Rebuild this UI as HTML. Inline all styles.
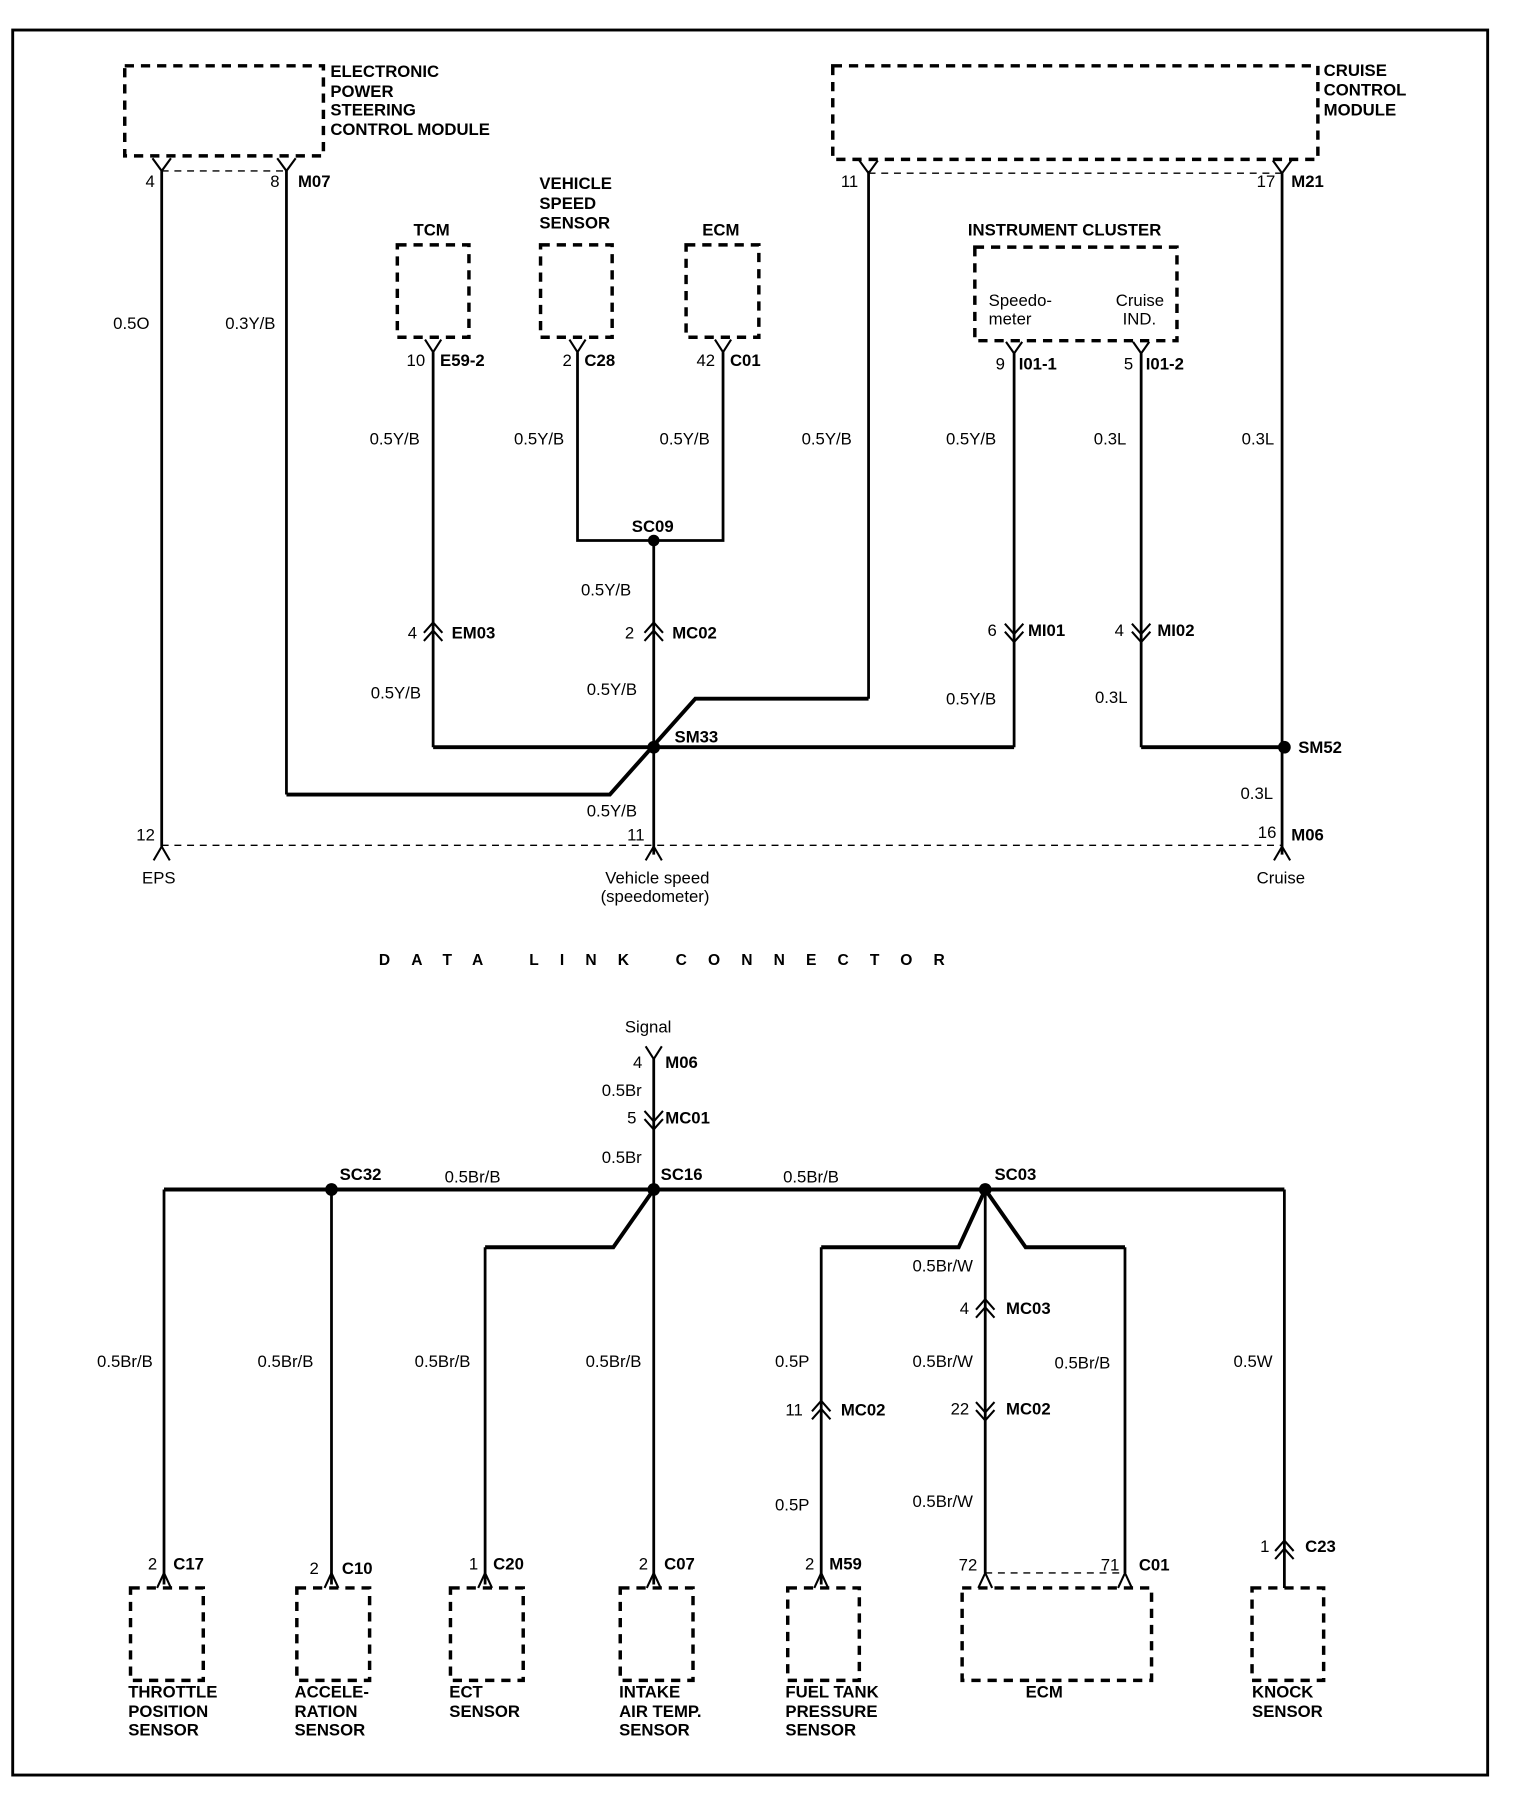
<!DOCTYPE html>
<html><head><meta charset="utf-8"><style>
html,body{margin:0;padding:0;background:#fff;}
svg{display:block;}
text{font-family:"Liberation Sans",Arial,sans-serif;font-size:14.5px;fill:#000;dominant-baseline:middle;}
.b{font-weight:bold;}
.w{stroke:#000;stroke-width:2.4;fill:none;}
.t{stroke:#000;stroke-width:3.4;fill:none;}
.d{stroke:#000;stroke-width:3;fill:none;stroke-dasharray:8 6;}
.dl{stroke:#000;stroke-width:1.2;fill:none;stroke-dasharray:6 5;}
.c{stroke:#000;stroke-width:1.8;fill:none;}
</style></head><body>
<svg width="1520" height="1812" viewBox="0 0 1316 1569" preserveAspectRatio="none" xmlns="http://www.w3.org/2000/svg">
<rect x="11" y="26" width="1277" height="1511" fill="none" stroke="#000" stroke-width="2.5"/>

<rect class="d" x="108" y="57" width="172" height="78"/>
<text class="b" x="286" y="63">ELECTRONIC</text>
<text class="b" x="286" y="80">POWER</text>
<text class="b" x="286" y="96">STEERING</text>
<text class="b" x="286" y="113">CONTROL MODULE</text>
<path class="c" d="M132 137 L140 148 L148 137 M240 137 L248 148 L256 137"/>
<line class="dl" x1="140" y1="148" x2="248" y2="148"/>
<text x="126" y="158">4</text><text x="234" y="158">8</text><text class="b" x="258" y="158">M07</text>
<line class="w" x1="140" y1="148" x2="140" y2="733"/>
<text x="98" y="281">0.5O</text>
<path class="w" d="M248 148 L248 688"/>
<path class="t" d="M248 688 L528 688 L602 605 L752 605"/>
<path class="w" d="M752 605 L752 148"/>
<text x="195" y="281">0.3Y/B</text>

<text class="b" x="358" y="200">TCM</text>
<rect class="d" x="344" y="212" width="62" height="80"/>
<path class="c" d="M368 294 L375 305 L382 294"/>
<text x="352" y="313">10</text><text class="b" x="381" y="313">E59-2</text>
<text class="b" x="467" y="160">VEHICLE</text>
<text class="b" x="467" y="177">SPEED</text>
<text class="b" x="467" y="194">SENSOR</text>
<rect class="d" x="468" y="212" width="62" height="80"/>
<path class="c" d="M493 294 L500 305 L507 294"/>
<text x="487" y="313">2</text><text class="b" x="506" y="313">C28</text>
<text class="b" x="608" y="200">ECM</text>
<rect class="d" x="594" y="212" width="63" height="80"/>
<path class="c" d="M619 294 L626 305 L633 294"/>
<text x="603" y="313">42</text><text class="b" x="632" y="313">C01</text>

<line class="w" x1="375" y1="305" x2="375" y2="647"/>
<path class="w" d="M500 305 L500 468 L626 468 L626 305"/>
<line class="w" x1="566" y1="468" x2="566" y2="740"/>
<circle cx="566" cy="468" r="5"/>
<text class="b" x="547" y="457">SC09</text>
<text x="320" y="381">0.5Y/B</text>
<text x="445" y="381">0.5Y/B</text>
<text x="571" y="381">0.5Y/B</text>
<text x="503" y="512">0.5Y/B</text>
<text x="321" y="601">0.5Y/B</text>
<text x="508" y="598">0.5Y/B</text>
<text x="508" y="703">0.5Y/B</text>
<text x="694" y="381">0.5Y/B</text>
<path class="c" d="M367 548 L375 539 L383 548 M367 555 L375 546 L383 555"/>
<text x="353" y="549">4</text><text class="b" x="391" y="549">EM03</text>
<path class="c" d="M558 548 L566 539 L574 548 M558 555 L566 546 L574 555"/>
<text x="541" y="549">2</text><text class="b" x="582" y="549">MC02</text>

<path class="t" d="M375 647 L878 647"/>
<circle cx="566" cy="647" r="5.5"/>
<text class="b" x="584" y="639">SM33</text>

<rect class="d" x="721" y="57" width="420" height="81"/>
<text class="b" x="1146" y="62">CRUISE</text>
<text class="b" x="1146" y="79">CONTROL</text>
<text class="b" x="1146" y="96">MODULE</text>
<path class="c" d="M744 139 L752 150 L760 139 M1102 139 L1110 150 L1118 139"/>
<line class="dl" x1="752" y1="150" x2="1110" y2="150"/>
<text x="728" y="158">11</text><text x="1088" y="158">17</text><text class="b" x="1118" y="158">M21</text>
<line class="w" x1="1110" y1="150" x2="1110" y2="740"/>

<text class="b" x="838" y="200">INSTRUMENT CLUSTER</text>
<rect class="d" x="844" y="214" width="175" height="81"/>
<text x="856" y="261">Speedo-</text><text x="856" y="277">meter</text>
<text x="966" y="261">Cruise</text><text x="972" y="277">IND.</text>
<path class="c" d="M871 296 L878 306 L885 296 M981 296 L988 306 L995 296"/>
<text x="862" y="316">9</text><text class="b" x="882" y="316">I01-1</text>
<text x="973" y="316">5</text><text class="b" x="992" y="316">I01-2</text>
<line class="w" x1="878" y1="306" x2="878" y2="647"/>
<path class="w" d="M988 306 L988 647"/>
<path class="t" d="M988 647 L1112 647"/>
<path class="c" d="M870 540 L878 549 L886 540 M870 547 L878 556 L886 547"/>
<text x="855" y="547">6</text><text class="b" x="890" y="547">MI01</text>
<path class="c" d="M980 540 L988 549 L996 540 M980 547 L988 556 L996 547"/>
<text x="965" y="547">4</text><text class="b" x="1002" y="547">MI02</text>
<text x="819" y="381">0.5Y/B</text><text x="819" y="606">0.5Y/B</text>
<text x="947" y="381">0.3L</text><text x="948" y="605">0.3L</text>
<text x="1075" y="381">0.3L</text><text x="1074" y="688">0.3L</text>
<circle cx="1112" cy="647" r="5.5"/>
<text class="b" x="1124" y="648">SM52</text>

<line class="dl" x1="140" y1="732" x2="1110" y2="732"/>
<path class="c" d="M133 745 L140 733 L147 745 M559 745 L566 733 L573 745 M1103 745 L1110 733 L1117 745"/>
<text x="118" y="724">12</text><text x="543" y="724">11</text>
<text x="1089" y="722">16</text><text class="b" x="1118" y="724">M06</text>
<text x="123" y="761">EPS</text>
<text x="524" y="761">Vehicle speed</text>
<text x="520" y="777">(speedometer)</text>
<text x="1088" y="761">Cruise</text>
<text class="b" x="328" y="832" style="letter-spacing:18.3px;font-size:13.5px">DATA  LINK  CONNECTOR</text>

<text x="541" y="890">Signal</text>
<path class="c" d="M559 906 L566 917 L573 906"/>
<text x="548" y="921">4</text><text class="b" x="576" y="921">M06</text>
<line class="w" x1="566" y1="917" x2="566" y2="1372"/>
<text x="521" y="945">0.5Br</text>
<path class="c" d="M558 962 L566 971 L574 962 M558 969 L566 978 L574 969"/>
<text x="543" y="969">5</text><text class="b" x="576" y="969">MC01</text>
<text x="521" y="1003">0.5Br</text>

<path class="t" d="M142 1030 L1112 1030"/>
<circle cx="287" cy="1030" r="5.5"/><circle cx="566" cy="1030" r="5.5"/><circle cx="853" cy="1030" r="5.5"/>
<text class="b" x="294" y="1018">SC32</text><text x="385" y="1020">0.5Br/B</text>
<text class="b" x="572" y="1018">SC16</text><text x="678" y="1020">0.5Br/B</text>
<text class="b" x="861" y="1018">SC03</text>

<line class="w" x1="142" y1="1030" x2="142" y2="1372"/>
<line class="w" x1="287" y1="1030" x2="287" y2="1372"/>
<path class="t" d="M566 1030 L531 1080 L420 1080"/>
<line class="w" x1="420" y1="1080" x2="420" y2="1372"/>
<path class="t" d="M853 1030 L830 1080 L711 1080 M853 1030 L888 1080 L974 1080"/>
<line class="w" x1="711" y1="1080" x2="711" y2="1372"/>
<line class="w" x1="974" y1="1080" x2="974" y2="1362"/>
<line class="w" x1="853" y1="1030" x2="853" y2="1362"/>
<line class="w" x1="1112" y1="1030" x2="1112" y2="1375"/>

<text x="84" y="1180">0.5Br/B</text><text x="223" y="1180">0.5Br/B</text>
<text x="359" y="1180">0.5Br/B</text><text x="507" y="1180">0.5Br/B</text>
<text x="671" y="1180">0.5P</text><text x="790" y="1180">0.5Br/W</text>
<text x="913" y="1181">0.5Br/B</text><text x="1068" y="1180">0.5W</text>
<text x="790" y="1097">0.5Br/W</text>
<text x="671" y="1304">0.5P</text><text x="790" y="1301">0.5Br/W</text>

<path class="c" d="M845 1134 L853 1125 L861 1134 M845 1141 L853 1132 L861 1141"/>
<text x="831" y="1134">4</text><text class="b" x="871" y="1134">MC03</text>
<path class="c" d="M703 1222 L711 1213 L719 1222 M703 1229 L711 1220 L719 1229"/>
<text x="680" y="1222">11</text><text class="b" x="728" y="1222">MC02</text>
<path class="c" d="M845 1214 L853 1223 L861 1214 M845 1221 L853 1230 L861 1221"/>
<text x="823" y="1221">22</text><text class="b" x="871" y="1221">MC02</text>
<path class="c" d="M1104 1343 L1112 1334 L1120 1343 M1104 1350 L1112 1341 L1120 1350"/>
<text x="1091" y="1340">1</text><text class="b" x="1130" y="1340">C23</text>

<path class="c" d="M136 1375 L142 1362 L148 1375 M281 1375 L287 1362 L293 1375 M414 1375 L420 1362 L426 1375 M560 1375 L566 1362 L572 1375 M705 1375 L711 1362 L717 1375 M847 1375 L853 1362 L859 1375 M968 1375 L974 1362 L980 1375"/>
<line class="dl" x1="853" y1="1362" x2="974" y2="1362"/>
<text x="128" y="1355">2</text><text class="b" x="150" y="1355">C17</text>
<text x="268" y="1359">2</text><text class="b" x="296" y="1359">C10</text>
<text x="406" y="1355">1</text><text class="b" x="427" y="1355">C20</text>
<text x="553" y="1355">2</text><text class="b" x="575" y="1355">C07</text>
<text x="697" y="1355">2</text><text class="b" x="718" y="1355">M59</text>
<text x="830" y="1356">72</text><text x="953" y="1356">71</text><text class="b" x="986" y="1356">C01</text>

<rect class="d" x="113" y="1375" width="63" height="80"/>
<rect class="d" x="257" y="1375" width="63" height="80"/>
<rect class="d" x="390" y="1375" width="63" height="80"/>
<rect class="d" x="537" y="1375" width="63" height="80"/>
<rect class="d" x="682" y="1375" width="62" height="80"/>
<rect class="d" x="833" y="1375" width="164" height="80"/>
<rect class="d" x="1084" y="1375" width="62" height="80"/>

<text class="b" x="111" y="1466">THROTTLE</text><text class="b" x="111" y="1483">POSITION</text><text class="b" x="111" y="1499">SENSOR</text>
<text class="b" x="255" y="1466">ACCELE-</text><text class="b" x="255" y="1483">RATION</text><text class="b" x="255" y="1499">SENSOR</text>
<text class="b" x="389" y="1466">ECT</text><text class="b" x="389" y="1483">SENSOR</text>
<text class="b" x="536" y="1466">INTAKE</text><text class="b" x="536" y="1483">AIR TEMP.</text><text class="b" x="536" y="1499">SENSOR</text>
<text class="b" x="680" y="1466">FUEL TANK</text><text class="b" x="680" y="1483">PRESSURE</text><text class="b" x="680" y="1499">SENSOR</text>
<text class="b" x="888" y="1466">ECM</text>
<text class="b" x="1084" y="1466">KNOCK</text><text class="b" x="1084" y="1483">SENSOR</text>
</svg>
</body></html>
